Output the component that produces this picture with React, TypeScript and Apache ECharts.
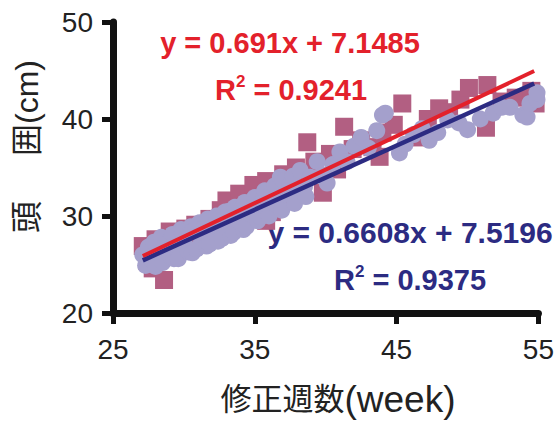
import React, { useEffect, useRef } from "react";
import * as echarts from "echarts";

// Tick values
const xTicks = [25, 35, 45, 55];
const yTicks = [20, 30, 40, 50];

// Group A (squares, mauve)
const squarePoints: [number, number][] = [
  [27.1, 26.9], [27.4, 25.4], [27.8, 24.6], [28.0, 27.6], [28.6, 23.4], [28.8, 25.9],
  [29.0, 28.4], [29.5, 26.8], [30.1, 28.7], [30.4, 27.2], [30.8, 29.1], [31.3, 28.0],
  [31.8, 29.7], [32.2, 28.6], [32.6, 30.6], [33.0, 31.6], [33.4, 29.8], [33.9, 32.3],
  [34.3, 30.9], [34.9, 33.2], [35.2, 31.6], [35.8, 33.6], [35.8, 29.5], [36.2, 30.4],
  [36.6, 32.8], [37.0, 34.3], [37.5, 32.0], [37.9, 35.0], [38.3, 33.4], [38.7, 37.6],
  [39.2, 35.6], [39.8, 32.4], [40.3, 36.4], [40.8, 34.8], [41.3, 39.2], [41.9, 36.9],
  [42.5, 37.8], [43.3, 37.1], [43.8, 36.1], [44.0, 38.6], [44.8, 39.4], [45.4, 41.6],
  [46.4, 38.1], [47.2, 40.0], [48.0, 41.1], [48.7, 40.7], [49.5, 42.0], [50.1, 43.2],
  [51.3, 39.1], [51.4, 43.5], [52.4, 41.8], [53.4, 42.2], [54.5, 42.9], [54.8, 41.6],
];

// Group B (circles, lavender)
const circlePoints: [number, number][] = [
  [27.1, 26.0], [27.3, 24.9], [27.5, 26.8], [27.7, 25.5], [27.9, 27.3], [28.0, 24.8],
  [28.2, 26.3], [28.4, 27.8], [28.5, 25.2], [28.7, 27.1], [29.0, 25.9], [29.2, 28.1],
  [29.3, 25.6], [29.6, 26.8], [29.6, 25.6], [29.8, 28.6], [29.9, 28.4], [30.0, 27.5],
  [30.3, 26.3], [30.5, 28.9], [30.6, 28.4], [30.6, 26.2], [30.9, 26.6], [31.1, 29.3],
  [31.2, 27.8], [31.5, 29.0], [31.6, 26.9], [31.7, 29.7], [31.8, 27.1], [32.1, 28.4],
  [32.3, 30.0], [32.4, 29.6], [32.4, 27.4], [32.7, 27.7], [32.9, 30.4], [33.0, 28.9],
  [33.2, 30.5], [33.3, 28.0], [33.5, 28.3], [33.6, 30.9], [33.8, 29.6], [34.1, 30.8],
  [34.2, 28.6], [34.3, 31.4], [34.4, 28.9], [34.7, 30.2], [35.0, 31.4], [35.0, 31.9],
  [35.2, 29.5], [35.4, 29.9], [35.6, 31.9], [35.7, 32.6], [35.9, 30.8], [36.0, 30.0],
  [36.2, 32.4], [36.4, 33.1], [36.5, 31.2], [36.8, 34.0], [36.9, 30.6], [37.0, 33.6],
  [37.1, 32.2], [37.5, 33.2], [37.7, 34.1], [37.8, 31.9], [37.8, 31.3], [38.2, 34.7],
  [38.5, 33.0], [38.6, 32.0], [38.9, 34.0], [39.4, 35.6], [39.8, 34.2], [40.1, 33.4],
  [40.5, 35.3], [41.0, 36.6], [41.5, 35.6], [42.0, 37.2], [42.5, 38.1], [43.0, 37.0],
  [43.6, 38.8], [44.0, 40.4], [44.2, 40.6], [45.2, 36.5], [45.6, 37.4], [46.2, 38.4],
  [46.8, 39.0], [47.3, 37.8], [47.9, 38.6], [48.6, 39.9], [49.4, 39.6], [50.0, 38.9],
  [50.9, 40.0], [51.8, 40.6], [52.4, 41.2], [53.0, 41.2], [53.9, 40.4], [54.2, 40.2],
  [54.4, 41.6], [54.9, 42.0], [54.9, 42.7],
];

// Trend lines (slope, intercept) and x extent
const trendA = { slope: 0.691, intercept: 7.1485, r2: "0.9241" };
const trendB = { slope: 0.6608, intercept: 7.5196, r2: "0.9375" };
const trendRange = [27.1, 54.7];

const RED = "#e3212b";
const NAVY = "#2c2b82";
const SQUARE = "#b25f82";
const CIRCLE = "#a4a0cc";
const FONT = "'Liberation Sans', Arial, 'Noto Sans CJK JP', sans-serif";

function trendData(t: { slope: number; intercept: number }) {
  return trendRange.map((x) => [x, t.slope * x + t.intercept]);
}

export default function App() {
  const ref = useRef<HTMLDivElement>(null);
  useEffect(() => {
    if (!ref.current) return;
    const chart = echarts.init(ref.current, null, { renderer: "svg" });
    const axisCommon = {
      type: "value" as const,
      interval: 10,
      axisLine: { show: true, onZero: false, lineStyle: { color: "#111", width: 7 } },
      axisTick: { show: true, length: 11, lineStyle: { color: "#111", width: 5 } },
      splitLine: { show: false },
      axisLabel: { fontSize: 28, color: "#222", fontFamily: FONT },
    };
    const eqStyle = (color: string) => ({
      fontSize: 29,
      fontWeight: "bold",
      fontFamily: FONT,
      fill: color,
    });
    const r2Text = (color: string, x: number, y: number, val: string) => ({
      type: "text",
      x,
      y,
      style: {
        text: `{r|R}{s|2}{r| = ${val}}`,
        align: "center",
        verticalAlign: "middle",
        rich: {
          r: { ...eqStyle(color), lineHeight: 34 },
          s: { fontSize: 17, fontWeight: "bold", fontFamily: FONT, fill: color, verticalAlign: "top", lineHeight: 34, padding: [0, 0, 10, 0] },
        },
      },
    });
    chart.setOption({
      animation: false,
      grid: { left: 113, right: 18, top: 22, bottom: 108, containLabel: false },
      xAxis: {
        ...axisCommon,
        min: xTicks[0],
        max: xTicks[xTicks.length - 1],
        axisLabel: { ...axisCommon.axisLabel, margin: 22 },
      },
      yAxis: {
        ...axisCommon,
        min: yTicks[0],
        max: yTicks[yTicks.length - 1],
        axisLabel: { ...axisCommon.axisLabel, margin: 20 },
      },
      series: [
        {
          type: "scatter",
          data: squarePoints,
          symbol: "rect",
          symbolSize: 18,
          itemStyle: { color: SQUARE, opacity: 1 },
          z: 2,
        },
        {
          type: "scatter",
          data: circlePoints,
          symbol: "circle",
          symbolSize: 17,
          itemStyle: { color: CIRCLE, opacity: 1 },
          z: 3,
        },
        {
          type: "line",
          data: trendData(trendB),
          showSymbol: false,
          lineStyle: { color: NAVY, width: 4.5 },
          z: 4,
        },
        {
          type: "line",
          data: trendData(trendA),
          showSymbol: false,
          lineStyle: { color: RED, width: 4 },
          z: 5,
        },
      ],
      graphic: [
        {
          type: "text",
          x: 290,
          y: 43,
          style: {
            text: `y = ${trendA.slope}x + ${trendA.intercept}`,
            align: "center",
            verticalAlign: "middle",
            ...eqStyle(RED),
          },
        },
        r2Text(RED, 291, 90, trendA.r2),
        {
          type: "text",
          x: 410,
          y: 232,
          style: {
            text: `y = ${trendB.slope}x + ${trendB.intercept}`,
            align: "center",
            verticalAlign: "middle",
            ...eqStyle(NAVY),
            fontSize: 30,
          },
        },
        r2Text(NAVY, 410, 280, trendB.r2),
        {
          type: "text",
          x: 27,
          y: 217,
          rotation: Math.PI / 2,
          style: {
            text: "頭",
            align: "center",
            verticalAlign: "middle",
            fontSize: 32,
            fontFamily: FONT,
            fill: "#222",
          },
        },
        {
          type: "text",
          x: 27,
          y: 108,
          rotation: Math.PI / 2,
          style: {
            text: "囲(cm)",
            align: "center",
            verticalAlign: "middle",
            fontSize: 32,
            fontFamily: FONT,
            fill: "#222",
          },
        },
        {
          type: "text",
          x: 338,
          y: 399,
          style: {
            text: "{c|修正週数}{l|(week)}",
            align: "center",
            verticalAlign: "middle",
            rich: {
              c: { fontSize: 31, fontFamily: FONT, fill: "#222", lineHeight: 40 },
              l: { fontSize: 37, fontFamily: FONT, fill: "#222", lineHeight: 40 },
            },
          },
        },
      ],
    });
    return () => chart.dispose();
  }, []);
  return (
    <div
      ref={ref}
      style={{ position: "fixed", left: 0, top: 0, width: 557, height: 421, background: "#fff" }}
    />
  );
}
